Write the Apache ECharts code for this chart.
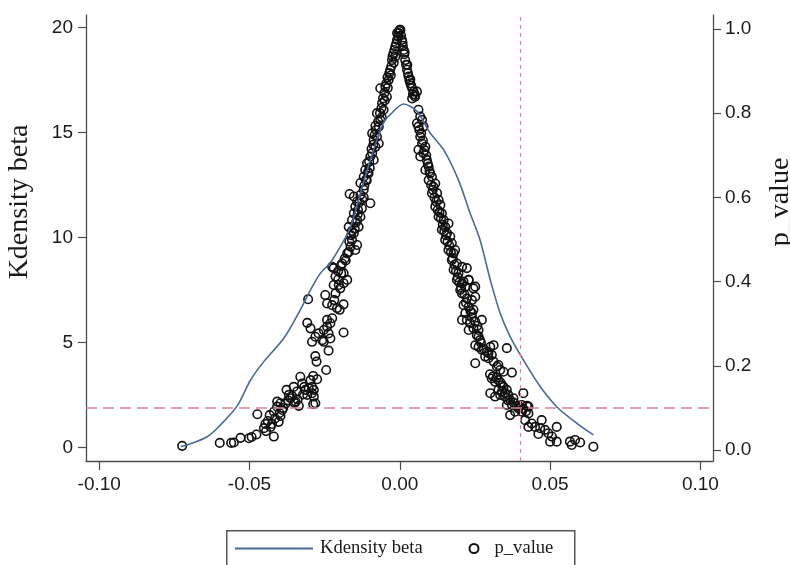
<!DOCTYPE html>
<html>
<head>
<meta charset="utf-8">
<script src="https://cdn.jsdelivr.net/npm/echarts@6/dist/echarts.min.js"></script>
<style>
  html, body { margin: 0; padding: 0; background: #fff; }
  #chart { width: 790px; height: 565px; }
</style>
</head>
<body>
<div id="chart"></div>
<script>
// kdensity curve of beta
const densityBeta = [-0.0729, -0.0707, -0.0641, -0.0597, -0.0541, -0.0497, -0.0452, -0.0386, -0.0331, -0.0297,
  -0.0264, -0.0231, -0.0198, -0.0164, -0.0131, -0.0098, -0.0055, -0.0032, 0.0013, 0.0057,
  0.0101, 0.0146, 0.0195, 0.0234, 0.0267, 0.0301, 0.0334, 0.0367, 0.0411, 0.0467,
  0.0522, 0.0589, 0.0644];
const densityVals = [0.05, 0.12, 0.51, 1.07, 1.98, 3.2, 4.1, 5.2, 6.55, 7.5,
  8.3, 8.8, 9.56, 10.5, 12.1, 13.7, 15.45, 15.85, 16.35, 16.0,
  14.97, 14.17, 12.74, 11.15, 9.88, 7.98, 6.39, 5.28, 4.17, 2.9,
  1.94, 1.15, 0.6];

// p_value against beta, [beta, p]
const pLeftLow = [[-0.0724,0.010],[-0.0599,0.017],[-0.0561,0.017],[-0.0552,0.018],[-0.0530,0.029],[-0.0502,0.028],
  [-0.0493,0.031],[-0.0477,0.037],[-0.0474,0.085],[-0.0452,0.052],[-0.0447,0.062],[-0.0439,0.069],[-0.0433,0.083],
  [-0.0419,0.091],[-0.0408,0.103],[-0.0419,0.032],[-0.0425,0.062],[-0.0403,0.067],[-0.0397,0.081],[-0.0391,0.095],
  [-0.0408,0.115],[-0.0397,0.111],[-0.0377,0.143],[-0.0369,0.131],[-0.0364,0.123],[-0.0353,0.150],[-0.0347,0.115],
  [-0.0342,0.139],[-0.0336,0.105],[-0.0331,0.174],[-0.0325,0.158],[-0.0314,0.143],[-0.0308,0.131],[-0.0303,0.147],
  [-0.0297,0.166],[-0.0292,0.135],[-0.0288,0.176],[-0.0275,0.168],[-0.0286,0.127],[-0.0281,0.111],[-0.0288,0.109],
  [-0.0292,0.150],[-0.0286,0.143],[-0.0245,0.190],[-0.0281,0.223],[-0.0277,0.210],[-0.0237,0.236],[-0.0308,0.302],
  [-0.0297,0.289],[-0.0292,0.257],[-0.0281,0.269],[-0.0270,0.277],[-0.0258,0.261],[-0.0253,0.257],[-0.0253,0.285],
  [-0.0242,0.293],[-0.0237,0.277],[-0.0231,0.265],[-0.0242,0.309],[-0.0231,0.301],[-0.0225,0.313],[-0.0187,0.279],
  [-0.0248,0.368],[-0.0242,0.348],[-0.0225,0.344],[-0.0218,0.356],[-0.0209,0.337],[-0.0200,0.333],[-0.0187,0.346],
  [-0.0214,0.372],[-0.0198,0.384],[-0.0187,0.396],[-0.0220,0.392],[-0.0305,0.358],
  [-0.0445,0.045],[-0.0430,0.055],[-0.0415,0.075],[-0.0400,0.088],[-0.0388,0.100],[-0.0380,0.110],[-0.0372,0.118],
  [-0.0358,0.128],[-0.0350,0.112],[-0.0340,0.120],[-0.0322,0.132],[-0.0318,0.150]];
const pLeftHigh = [[-0.0225,0.435],[-0.0220,0.432],[-0.0214,0.412],[-0.0203,0.392],[-0.0187,0.420],[-0.0192,0.443],
  [-0.0175,0.404],[-0.0175,0.467],[-0.0164,0.483],[-0.0159,0.499],[-0.0153,0.515],[-0.0148,0.475],[-0.0142,0.487],
  [-0.0170,0.530],[-0.0159,0.546],[-0.0153,0.562],[-0.0142,0.546],[-0.0137,0.530],[-0.0131,0.554],[-0.0167,0.608],
  [-0.0153,0.602],[-0.0142,0.590],[-0.0131,0.606],[-0.0120,0.618],[-0.0098,0.586],[-0.0126,0.574],[-0.0148,0.578],
  [-0.0131,0.634],[-0.0120,0.649],[-0.0115,0.665],[-0.0109,0.681],[-0.0098,0.697],[-0.0092,0.705],[-0.0087,0.689],
  [-0.0104,0.657],[-0.0092,0.752],[-0.0087,0.736],[-0.0081,0.720],[-0.0076,0.744],[-0.0070,0.728],[-0.0076,0.800],
  [-0.0065,0.784],[-0.0054,0.808],[-0.0070,0.768],[-0.0059,0.824],[-0.0065,0.859],[-0.0048,0.863],[-0.0043,0.839],
  [-0.0037,0.879],[-0.0032,0.903],[-0.0026,0.926],[-0.0021,0.942],[-0.0015,0.958],[-0.0009,0.974],[-0.0004,0.990],
  [0.0000,0.998],[-0.0009,0.990],[-0.0015,0.934],[-0.0081,0.770],[-0.0060,0.790],[-0.0050,0.830],[-0.0040,0.860],
  [-0.0030,0.890],[-0.0020,0.920],[-0.0110,0.640],[-0.0100,0.670],[-0.0120,0.600],[-0.0140,0.560],[-0.0160,0.520],
  [-0.0180,0.450],[-0.0195,0.420],[-0.0205,0.405],
  [-0.0205,0.425],[-0.0196,0.438],[-0.0183,0.455],[-0.0170,0.470],[-0.0168,0.495],[-0.0162,0.510],[-0.0150,0.525],
  [-0.0146,0.540],[-0.0139,0.570],[-0.0135,0.588],[-0.0125,0.595],[-0.0118,0.628],[-0.0112,0.642],[-0.0106,0.660],
  [-0.0102,0.685],[-0.0094,0.715],[-0.0088,0.725],[-0.0084,0.748],[-0.0079,0.760],[-0.0072,0.780],[-0.0066,0.800],
  [-0.0061,0.812],[-0.0056,0.835],[-0.0051,0.848],[-0.0045,0.870],[-0.0041,0.885],[-0.0035,0.895],[-0.0028,0.912],
  [-0.0024,0.935],[-0.0018,0.950],[-0.0012,0.965],[-0.0006,0.982],[-0.0002,0.995]];
const pRightHigh = [[0.0002,0.998],[0.0007,0.974],[0.0013,0.950],[0.0018,0.926],[0.0024,0.903],[0.0029,0.887],
  [0.0035,0.871],[0.0041,0.859],[0.0046,0.851],[0.0051,0.843],[0.0041,0.835],[0.0051,0.839],[0.0057,0.851],
  [0.0062,0.808],[0.0068,0.792],[0.0057,0.776],[0.0074,0.784],[0.0079,0.768],[0.0062,0.768],[0.0068,0.744],
  [0.0074,0.728],[0.0062,0.713],[0.0079,0.705],[0.0085,0.720],[0.0068,0.697],[0.0090,0.689],[0.0096,0.673],
  [0.0085,0.665],[0.0101,0.657],[0.0096,0.641],[0.0107,0.649],[0.0112,0.625],[0.0118,0.633],[0.0107,0.610],
  [0.0124,0.610],[0.0129,0.594],[0.0118,0.578],[0.0135,0.582],[0.0140,0.562],[0.0129,0.554],[0.0146,0.546],
  [0.0151,0.530],[0.0140,0.523],[0.0162,0.538],[0.0157,0.515],[0.0168,0.507],[0.0151,0.499],[0.0173,0.491],
  [0.0162,0.475],[0.0179,0.467],[0.0184,0.475],[0.0173,0.451],[0.0190,0.443],[0.0179,0.428],[0.0195,0.420],
  [0.0207,0.435],[0.0190,0.404],[0.0207,0.396],[0.0223,0.432],[0.0218,0.388],[0.0229,0.404],[0.0201,0.380],
  [0.0251,0.388],[0.0015,0.940],[0.0025,0.915],[0.0035,0.880],[0.0010,0.960],
  [0.0004,0.985],[0.0009,0.968],[0.0016,0.945],[0.0021,0.915],[0.0027,0.895],[0.0032,0.878],[0.0038,0.865],
  [0.0044,0.845],[0.0065,0.760],[0.0071,0.752],[0.0077,0.735],[0.0082,0.712],[0.0088,0.700],[0.0093,0.680],
  [0.0099,0.662],[0.0104,0.630],[0.0110,0.618],[0.0115,0.600],[0.0121,0.590],[0.0126,0.570],[0.0132,0.565],
  [0.0137,0.550],[0.0143,0.535],[0.0148,0.520],[0.0154,0.510],[0.0159,0.495],[0.0165,0.485],[0.0170,0.470],
  [0.0176,0.455],[0.0182,0.440],[0.0187,0.425],[0.0193,0.410],[0.0198,0.398]];
const pRightLow = [[0.0212,0.400],[0.0229,0.404],[0.0245,0.384],[0.0207,0.372],[0.0223,0.360],[0.0240,0.356],
  [0.0251,0.364],[0.0212,0.344],[0.0229,0.340],[0.0245,0.333],[0.0240,0.325],[0.0218,0.325],[0.0207,0.309],
  [0.0223,0.309],[0.0234,0.301],[0.0251,0.305],[0.0273,0.309],[0.0229,0.285],[0.0245,0.289],[0.0262,0.285],
  [0.0256,0.273],[0.0267,0.261],[0.0251,0.249],[0.0262,0.245],[0.0273,0.238],[0.0290,0.233],[0.0301,0.245],
  [0.0312,0.249],[0.0284,0.222],[0.0295,0.218],[0.0306,0.226],[0.0312,0.210],[0.0323,0.198],[0.0334,0.190],
  [0.0345,0.186],[0.0328,0.202],[0.0251,0.206],[0.0356,0.242],[0.0373,0.184],[0.0306,0.170],[0.0317,0.162],
  [0.0328,0.166],[0.0340,0.154],[0.0301,0.135],[0.0317,0.127],[0.0328,0.143],[0.0345,0.150],[0.0356,0.143],
  [0.0334,0.131],[0.0350,0.127],[0.0361,0.131],[0.0367,0.119],[0.0378,0.123],[0.0373,0.107],[0.0356,0.107],
  [0.0389,0.103],[0.0395,0.099],[0.0406,0.107],[0.0423,0.105],[0.0428,0.103],[0.0411,0.135],[0.0367,0.083],
  [0.0384,0.091],[0.0406,0.091],[0.0428,0.087],[0.0417,0.071],[0.0428,0.055],[0.0439,0.063],[0.0450,0.055],
  [0.0472,0.071],[0.0467,0.052],[0.0483,0.048],[0.0461,0.038],[0.0494,0.040],[0.0506,0.032],[0.0522,0.055],
  [0.0500,0.020],[0.0522,0.020],[0.0566,0.020],[0.0572,0.012],[0.0583,0.024],[0.0600,0.018],[0.0644,0.008],
  [0.0204,0.385],[0.0215,0.370],[0.0220,0.350],[0.0235,0.330],[0.0240,0.315],[0.0258,0.295],[0.0262,0.270],
  [0.0270,0.255],[0.0280,0.240],[0.0295,0.230],[0.0300,0.180],[0.0310,0.175],[0.0322,0.172],[0.0335,0.160],
  [0.0340,0.140],[0.0350,0.135],[0.0360,0.118],[0.0380,0.112],[0.0395,0.105],[0.0410,0.098],[0.0420,0.092]];
const pValuePoints = pLeftLow.concat(pLeftHigh, pRightHigh, pRightLow);

const xTicks = [-0.1, -0.05, 0, 0.05, 0.1];
const leftTicks = [0, 5, 10, 15, 20];
const rightTicks = [0, 0.2, 0.4, 0.6, 0.8, 1.0];
const pCut = 0.1;
const betaCut = 0.04;

const chart = echarts.init(document.getElementById('chart'));

const axisColor = '#4a4a4a';
const refColor = '#d8858f';
const tickFont = { color: '#1a1a1a', fontSize: 19, fontFamily: 'Liberation Sans, Arial, sans-serif' };
const nameFont = { color: '#1a1a1a', fontSize: 28, fontFamily: 'Liberation Serif, Times New Roman, serif' };
const legendFont = { color: '#1a1a1a', fontSize: 18.6, fontFamily: 'Liberation Serif, Times New Roman, serif' };

const option = {
  animation: false,
  backgroundColor: '#fff',
  grid: { left: 86, right: 77, top: 15, bottom: 104, containLabel: false, outerBoundsMode: 'none' },
  xAxis: {
    type: 'value',
    min: -0.1044,
    max: 0.1042,
    axisLine: { onZero: false, lineStyle: { color: axisColor, width: 1.3 } },
    axisTick: { customValues: xTicks, length: 9, lineStyle: { color: axisColor, width: 1.2 } },
    axisLabel: { customValues: xTicks, margin: 14, ...tickFont, formatter: v => v.toFixed(2) },
    splitLine: { show: false }
  },
  yAxis: [
    {
      type: 'value',
      position: 'left',
      min: -0.643,
      max: 20.59,
      name: 'Kdensity beta',
      nameLocation: 'middle',
      nameRotate: 90,
      nameGap: 52,
      nameTextStyle: { ...nameFont, padding: [0, 0, 0, 72] },
      axisLine: { show: true, onZero: false, lineStyle: { color: axisColor, width: 1.3 } },
      axisTick: { show: true, customValues: leftTicks, length: 8, lineStyle: { color: axisColor, width: 1.2 } },
      axisLabel: { customValues: leftTicks, margin: 13, ...tickFont },
      splitLine: { show: false }
    },
    {
      type: 'value',
      position: 'right',
      min: -0.026,
      max: 1.033,
      name: 'p_value',
      nameLocation: 'middle',
      nameRotate: 90,
      nameGap: 54,
      nameTextStyle: { ...nameFont, padding: [0, 0, 0, 72] },
      axisLine: { show: true, onZero: false, lineStyle: { color: axisColor, width: 1.3 } },
      axisTick: { show: true, customValues: rightTicks, length: 8, lineStyle: { color: axisColor, width: 1.2 } },
      axisLabel: { customValues: rightTicks, margin: 12, ...tickFont, formatter: v => v.toFixed(1) },
      splitLine: { show: false }
    }
  ],
  legend: [
    {
      left: 235, top: 539, padding: 0,
      itemWidth: 78, itemHeight: 2,
      selectedMode: false,
      data: [{ name: 'Kdensity beta', icon: 'rect' }],
      textStyle: { ...legendFont, padding: [0, 0, 0, 2] }
    },
    {
      left: 468.5, top: 539, padding: 0,
      itemWidth: 9, itemHeight: 9,
      selectedMode: false,
      data: ['p_value'],
      textStyle: { ...legendFont, padding: [0, 0, 0, 11] }
    }
  ],
  graphic: [
    {
      type: 'rect',
      left: 226, top: 530, z: -1,
      shape: { width: 348, height: 60 },
      style: { fill: '#fff', stroke: '#555', lineWidth: 1.5 }
    }
  ],
  series: [
    {
      name: 'Kdensity beta',
      type: 'line',
      yAxisIndex: 0,
      smooth: 0.3,
      symbol: 'none',
      data: densityBeta.map((b, i) => [b, densityVals[i]]),
      lineStyle: { color: '#48699a', width: 1.6 },
      itemStyle: { color: '#48699a' },
      markLine: {
        silent: true,
        symbol: 'none',
        label: { show: false },
        lineStyle: { color: refColor, width: 1.2, type: [4, 4], opacity: 1 },
        data: [{ xAxis: betaCut, lineStyle: { color: refColor, width: 1.2, type: [4, 4] } }]
      }
    },
    {
      name: 'p_value',
      type: 'scatter',
      yAxisIndex: 1,
      symbol: 'circle',
      symbolSize: 8.5,
      data: pValuePoints,
      itemStyle: { color: 'rgba(255,255,255,0)', borderColor: '#111', borderWidth: 1.6, opacity: 1 },
      markLine: {
        silent: true,
        symbol: 'none',
        label: { show: false },
        lineStyle: { color: refColor, width: 1.5, type: [11, 6], opacity: 1 },
        data: [{ yAxis: pCut, lineStyle: { color: refColor, width: 1.5, type: [11, 6] } }]
      }
    }
  ]
};

chart.setOption(option);
</script>
</body>
</html>
